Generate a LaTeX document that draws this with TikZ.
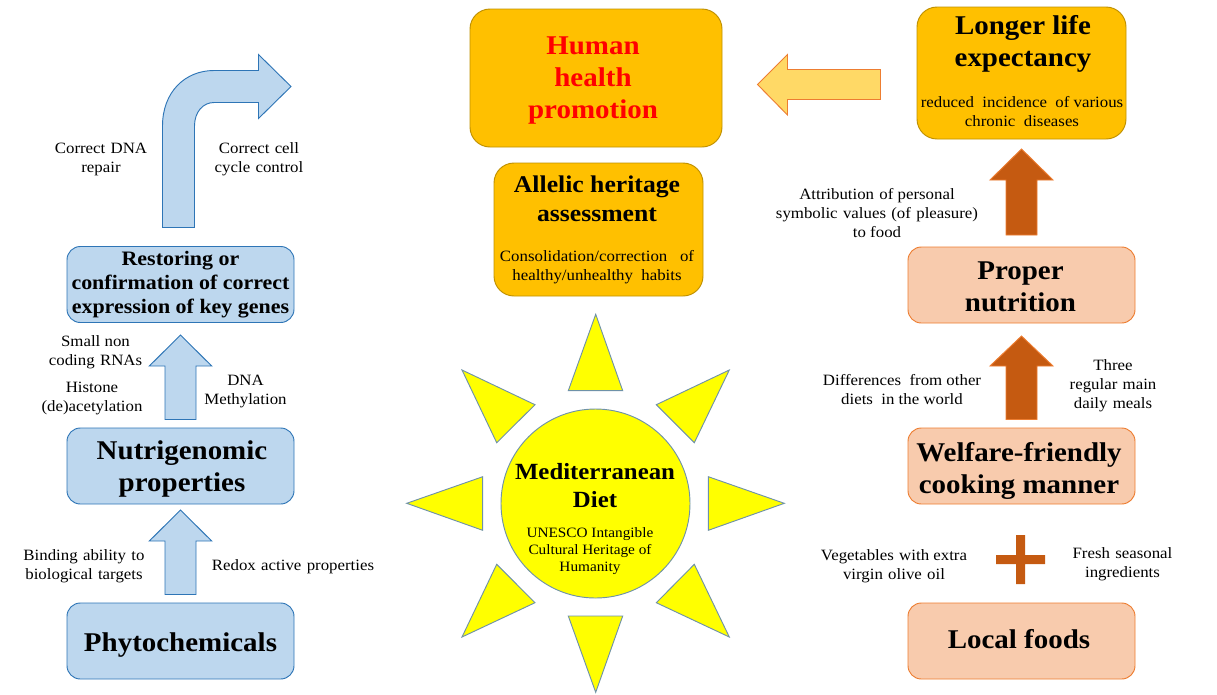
\documentclass[tikz,border=0pt]{standalone}
\usepackage{fontspec}
\setmainfont[FakeStretch=1.07]{Liberation Serif}
\definecolor{blueFill}{HTML}{BDD7EE}
\definecolor{blueLine}{HTML}{2E75B6}
\definecolor{goldFill}{HTML}{FFC000}
\definecolor{goldLine}{HTML}{BF9000}
\definecolor{peachFill}{HTML}{F8CBAD}
\definecolor{peachLine}{HTML}{ED7D31}
\definecolor{palegold}{HTML}{FFD966}
\definecolor{brownFill}{HTML}{C55A11}
\definecolor{sunFill}{RGB}{255,255,0}
\definecolor{sunLine}{HTML}{6F92A8}
\newcommand{\hugebf}{\fontsize{20.3}{24}\selectfont\bfseries}
\newcommand{\medbf}{\fontsize{18}{21.75}\selectfont\bfseries}
\newcommand{\dietbf}{\fontsize{17.4}{21}\selectfont\bfseries}
\newcommand{\midbf}{\fontsize{15.4}{18}\selectfont\bfseries}
\newcommand{\smalltxt}{\fontsize{11.8}{14.25}\selectfont}
\newcommand{\unesco}{\fontsize{10.7}{12.75}\selectfont}
\newcommand{\gap}{\hspace{4pt}}
\tikzset{
  boxbase/.style={draw, line width=0.7pt, inner sep=0pt, minimum width=170.25pt, minimum height=57pt, rounded corners=10pt},
  bluebox/.style={boxbase, fill=blueFill, draw=blueLine},
  peachbox/.style={boxbase, fill=peachFill, draw=peachLine},
  goldbox/.style={boxbase, fill=goldFill, draw=goldLine, rounded corners=15pt},
  boxtitle/.style={align=center, inner sep=0pt, font=\hugebf},
  note/.style={align=center, inner sep=0pt, font=\smalltxt},
  sunray/.style={fill=sunFill, draw=sunLine, line width=0.7pt},
  bluearrow/.style={fill=blueFill, draw=blueLine, line width=0.7pt},
  brownarrow/.style={fill=brownFill, draw=peachLine, line width=0.7pt}
}
\begin{document}
\begin{tikzpicture}[x=0.75pt,y=-0.75pt]
\useasboundingbox (0,0) rectangle (1217,694);
% block arrows
\foreach \ytip/\ybase/\yend in{510/541/594.5,335/366/419.5}
{   \draw[bluearrow] (180.5,\ytip) -- (211.7,\ybase) -- (196,\ybase) -- (196,\yend)
      -- (165,\yend) -- (165,\ybase) -- (149.3,\ybase) -- cycle;
}
\foreach \ytip/\ybase/\yend in{149/180/235,336/366/419.5}
{   \draw[brownarrow] (1021.5,\ytip) -- (1053,\ybase) -- (1037,\ybase) -- (1037,\yend)
      -- (1006,\yend) -- (1006,\ybase) -- (990,\ybase) -- cycle;
}
\draw[bluearrow] (162.5,227.5) -- (162.5,126) .. controls (162.5,92) and (185,70.5) .. (214,70.5)
  -- (258.5,70.5) -- (258.5,54.5) -- (291,86.5) -- (258.5,118.5) -- (258.5,102.5) -- (214,102.5)
  .. controls (203,102.5) and (194.5,112) .. (194.5,126) -- (194.5,227.5) -- cycle;
\draw[fill=palegold, draw=peachLine, line width=0.7pt] (757.5,84.5) -- (787.5,54.5) -- (787.5,69.5)
  -- (880.5,69.5) -- (880.5,99.5) -- (787.5,99.5) -- (787.5,115) -- cycle;
\fill[brownFill] (996,555) rectangle (1045,564) (1016,535) rectangle (1025,584);
% sun
\draw[sunray] (595.7,314.3) -- (568.3,390.7) -- (622.7,390.7) -- cycle;
\draw[sunray] (595.7,692.3) -- (568.3,616) -- (622.7,616) -- cycle;
\draw[sunray] (406.7,503.3) -- (482.7,476.7) -- (482.7,530.3) -- cycle;
\draw[sunray] (784.3,503.3) -- (708.3,476.7) -- (708.3,530.3) -- cycle;
\draw[sunray] (462,370) -- (535,404.7) -- (496.7,442.7) -- cycle;
\draw[sunray] (729.3,370) -- (656.3,404.7) -- (694.3,442.7) -- cycle;
\draw[sunray] (462,637) -- (535,602.7) -- (496.7,564.3) -- cycle;
\draw[sunray] (729.3,637) -- (656.3,602.7) -- (694.3,564.3) -- cycle;
\node[circle, fill=sunFill, draw=sunLine, line width=0.7pt, minimum size=141.75pt, inner sep=0pt] (diet) at (595.5,503.5) {};
\node[boxtitle, font=\dietbf] (dietname) at (595,486) {Mediterranean\\ Diet};
\node[align=center, inner sep=0pt, font=\unesco] (unesco) at (590,551) {UNESCO Intangible\\ Cultural Heritage of\\ Humanity};
% left column
\node[bluebox] (phyto) at (180.5,641) {};
\node[boxtitle] (phytoname) at (180.5,645) {Phytochemicals};
\node[bluebox] (nutri) at (180.5,466) {};
\node[boxtitle] (nutriname) at (182,469) {Nutrigenomic\\ properties};
\node[bluebox] (restore) at (180.5,284.5) {};
\node[boxtitle, font=\midbf] (restorename) at (180.5,285) {Restoring or\\ confirmation of correct\\ expression of key genes};
% middle
\node[goldbox, minimum width=189pt, minimum height=103.5pt] (human) at (596,78) {};
\node[boxtitle, text=red] (humanname) at (593,80.5) {Human\\ health\\ promotion};
\node[goldbox, minimum width=156.75pt, minimum height=99.75pt] (allelic) at (598.5,229.5) {};
\node[boxtitle, font=\medbf] (allelicname) at (597,198.5) {Allelic heritage\\ assessment};
\node[note] (habits) at (597,267.5) {Consolidation/correction\ \ \ of\\ healthy/unhealthy\ \ habits};
% right column
\node[goldbox, minimum width=156.75pt, minimum height=99pt] (longer) at (1021.5,73) {};
\node[boxtitle] (longername) at (1023,44) {Longer life\\ expectancy};
\node[note] (chronic) at (1022,111.5) {reduced\ \ incidence\ \ of various\\ chronic\ \ diseases};
\node[peachbox] (proper) at (1021.5,285) {};
\node[boxtitle] (propername) at (1020.5,287) {Proper\\ nutrition};
\node[peachbox] (welfare) at (1021.5,466) {};
\node[boxtitle] (welfarename) at (1019,471) {Welfare-friendly\\ cooking manner};
\node[peachbox] (local) at (1021.5,641) {};
\node[boxtitle] (localname) at (1019,639) {Local foods};
% labels
\node[note] (dnarepair) at (101,159.5) {Correct\gap DNA\\ repair};
\node[note] (cellcycle) at (259,159.5) {Correct\gap cell\\ cycle\gap control};
\node[note] (rnas) at (95.5,352.5) {Small non\\ coding\gap RNAs};
\node[note] (histone) at (92,398.5) {Histone\\ (de)acetylation};
\node[note] (methyl) at (245.5,391) {DNA\\ Methylation};
\node[note] (binding) at (84,566.5) {Binding\gap ability\gap to\\ biological\gap targets};
\node[note] (redox) at (293,567) {Redox\gap active\gap properties};
\node[note] (symbolic) at (877,213) {Attribution\gap of personal\\ symbolic\gap values\gap (of\gap pleasure)\\ to food};
\node[note] (world) at (902,389.5) {Differences\ \ from other\\ diets\ \ in the world};
\node[note] (meals) at (1113,386) {Three\\ regular\gap main\\ daily\gap meals};
\node[note] (veggies) at (894,566) {Vegetables\gap with extra\\ virgin\gap olive\gap oil};
\node[note] (seasonal) at (1122.5,564) {Fresh\gap seasonal\\ ingredients};
\end{tikzpicture}
\end{document}
